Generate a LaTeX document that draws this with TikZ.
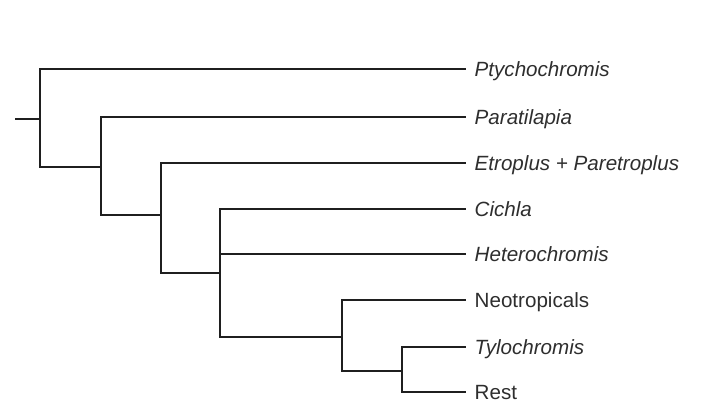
\documentclass[tikz,border=0pt]{standalone}
\usepackage{fontspec}
\setmainfont{Liberation Sans}
\begin{document}
\begin{tikzpicture}[x=1pt,y=-1pt,
  branch/.style={draw=black!88,line width=1.7pt,line cap=rect},
  taxon/.style={anchor=west,inner xsep=9.5pt,inner ysep=0pt,text height=14.5pt,text depth=0pt,
    font=\fontsize{20.6}{22}\selectfont,text=black!82},
  genus/.style={taxon,font=\fontsize{20.6}{22}\selectfont\itshape}]
\useasboundingbox (0,0) rectangle (704,416);
% internal nodes: each placed where its parent branch meets it
\coordinate (root) at (16,119);
\coordinate (nA) at (40,119);
\coordinate (nB) at (101,167);
\coordinate (nC) at (161,215);
\coordinate (nD) at (220,273);
\coordinate (nE) at (342,337);
\coordinate (nF) at (402,371);
% terminal taxa
\node[genus] (ptych) at (465,69) {Ptychochromis};
\node[genus] (parat) at (465,117) {Paratilapia};
\node[genus] (etrop) at (465,163) {Etroplus + Paretroplus};
\node[genus] (cichl) at (465,209) {Cichla};
\node[genus] (heter) at (465,254) {Heterochromis};
\node[taxon] (neotr) at (465,300) {Neotropicals};
\node[genus] (tyloc) at (465,347) {Tylochromis};
\node[taxon] (rest)  at (465,392) {Rest};
% branches
\draw[branch] (root) -- (nA);
\draw[branch] (nA) |- (ptych.west);
\draw[branch] (nA) |- (nB);
\draw[branch] (nB) |- (parat.west);
\draw[branch] (nB) |- (nC);
\draw[branch] (nC) |- (etrop.west);
\draw[branch] (nC) |- (nD);
\draw[branch] (nD) |- (cichl.west);
\draw[branch] (nD) |- (heter.west);
\draw[branch] (nD) |- (nE);
\draw[branch] (nE) |- (neotr.west);
\draw[branch] (nE) |- (nF);
\draw[branch] (nF) |- (tyloc.west);
\draw[branch] (nF) |- (rest.west);
\end{tikzpicture}
\end{document}
